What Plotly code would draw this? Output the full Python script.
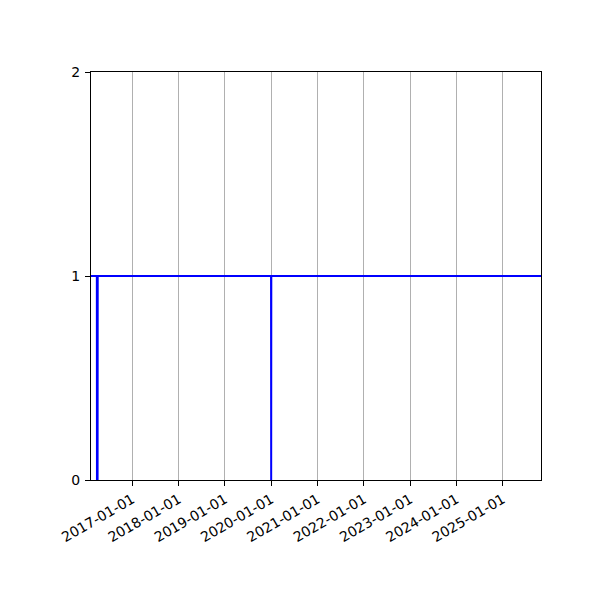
import plotly.graph_objects as go

# step series: value 1 with two short drops to 0
dates = ["2016-02-10", "2016-03-27", "2016-03-28", "2016-04-02", "2016-04-03",
         "2019-12-31", "2020-01-01", "2020-01-02", "2025-10-29"]
values = [1, 1, 0, 0, 1, 1, 0, 1, 1]

x_range = ["2016-02-10", "2025-10-29"]
tick_dates = ["2017-01-01", "2018-01-01", "2019-01-01", "2020-01-01", "2021-01-01",
              "2022-01-01", "2023-01-01", "2024-01-01", "2025-01-01"]
y_ticks = [0, 1, 2]

fig = go.Figure()

fig.add_trace(go.Scatter(
    x=dates,
    y=values,
    mode="lines",
    line=dict(color="#0000ff", width=2),
    showlegend=False
))

# page body adds 8px, so margins are shifted to compensate
fig.update_layout(
    width=600, height=600,
    margin={"l": 83, "r": 67, "t": 64, "b": 128},
    plot_bgcolor="white",
    paper_bgcolor="white",
    font=dict(family="DejaVu Sans", size=14, color="black"),
)

fig.update_xaxes(
    type="date",
    range=x_range,
    tickvals=tick_dates,
    ticktext=tick_dates,
    tickangle=-30,
    ticks="outside", ticklen=5, tickwidth=1, tickcolor="black",
    showgrid=True, gridcolor="#b0b0b0", gridwidth=1,
    showline=True, linecolor="black", linewidth=1, mirror=True,
    zeroline=False,
)

fig.update_yaxes(
    range=[0, 2],
    tickvals=y_ticks,
    ticks="outside", ticklen=5, tickwidth=1, tickcolor="black",
    ticklabelstandoff=2,
    showgrid=False,
    showline=True, linecolor="black", linewidth=1, mirror=True,
    zeroline=False,
)

fig.write_html("out.html")
